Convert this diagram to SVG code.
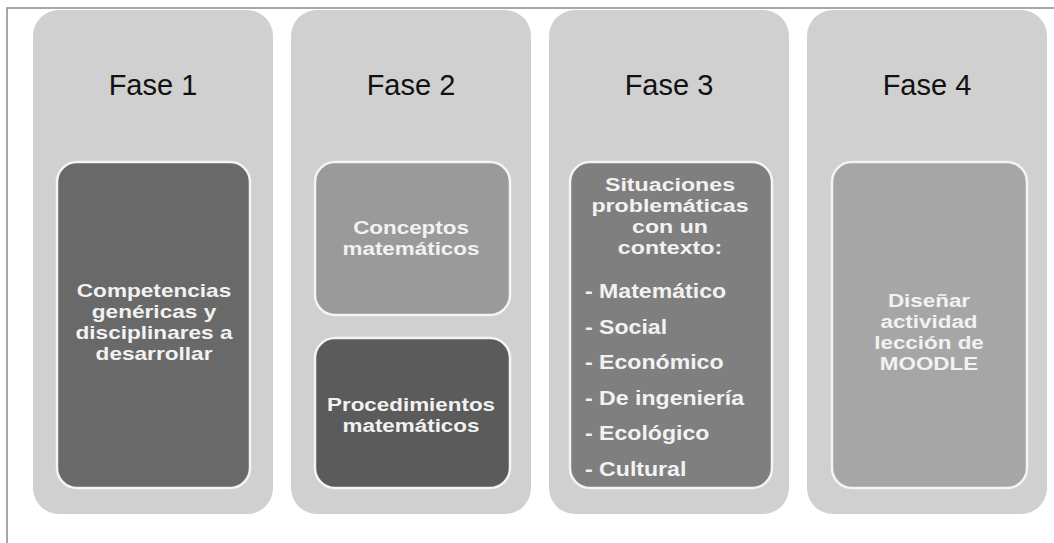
<svg xmlns="http://www.w3.org/2000/svg" width="1054" height="543" viewBox="0 0 1054 543">
  <style>
    .panel { fill: #d0d0d0; }
    .box { stroke: #f4f4f4; stroke-width: 2.5; }
    .title { font-family: "Liberation Sans", Arial, sans-serif; font-size: 29px; fill: #111; text-anchor: middle; }
    .lbl { font-family: "Liberation Sans", Arial, sans-serif; font-size: 19px; font-weight: bold; fill: #f2f2f2; text-anchor: middle; }
    .lst { font-family: "Liberation Sans", Arial, sans-serif; font-size: 21px; font-weight: bold; fill: #f2f2f2; }
    .frame { stroke: #8a8a8a; stroke-width: 1.5; fill: none; }
  </style>
  <rect x="0" y="0" width="1054" height="543" fill="#ffffff"/>
  <path class="frame" d="M7,543 V8 H1054"/>

  <g id="fase1">
    <rect class="panel" x="33" y="10" width="240" height="504" rx="26"/>
    <text class="title" x="153" y="95">Fase 1</text>
  </g>
  <g id="fase2">
    <rect class="panel" x="291" y="10" width="240" height="504" rx="26"/>
    <text class="title" x="411" y="95">Fase 2</text>
  </g>
  <g id="fase3">
    <rect class="panel" x="549" y="10" width="240" height="504" rx="26"/>
    <text class="title" x="669" y="95">Fase 3</text>
  </g>
  <g id="fase4">
    <rect class="panel" x="807" y="10" width="240" height="504" rx="26"/>
    <text class="title" x="927" y="95">Fase 4</text>
  </g>

  <g id="competencias">
    <rect class="box" x="57" y="162" width="193" height="326" rx="20" fill="#696969"/>
    <g transform="translate(154,0) scale(1.19,1)">
      <text class="lbl" x="0" y="297.5">Competencias</text>
      <text class="lbl" x="0" y="318.5">genéricas y</text>
      <text class="lbl" x="0" y="339.5">disciplinares a</text>
      <text class="lbl" x="0" y="360.5">desarrollar</text>
    </g>
  </g>

  <g id="conceptos">
    <rect class="box" x="315" y="162" width="195" height="153" rx="20" fill="#9a9a9a"/>
    <g transform="translate(411,0) scale(1.18,1)">
      <text class="lbl" x="0" y="234">Conceptos</text>
      <text class="lbl" x="0" y="255">matemáticos</text>
    </g>
  </g>

  <g id="procedimientos">
    <rect class="box" x="315" y="338" width="195" height="150" rx="20" fill="#5b5b5b"/>
    <g transform="translate(411,0) scale(1.18,1)">
      <text class="lbl" x="0" y="411">Procedimientos</text>
      <text class="lbl" x="0" y="432">matemáticos</text>
    </g>
  </g>

  <g id="situaciones">
    <rect class="box" x="570" y="162" width="202" height="326" rx="20" fill="#7f7f7f"/>
    <g transform="translate(670,0) scale(1.22,1)">
      <text class="lbl" x="0" y="191">Situaciones</text>
      <text class="lbl" x="0" y="212">problemáticas</text>
      <text class="lbl" x="0" y="233">con un</text>
      <text class="lbl" x="0" y="254">contexto:</text>
    </g>
    <g transform="translate(585,0) scale(1.1,1)">
      <text class="lst" x="0" y="298.5">- Matemático</text>
      <text class="lst" x="0" y="334">- Social</text>
      <text class="lst" x="0" y="369.5">- Económico</text>
      <text class="lst" x="0" y="405">- De ingeniería</text>
      <text class="lst" x="0" y="440.5">- Ecológico</text>
      <text class="lst" x="0" y="476">- Cultural</text>
    </g>
  </g>

  <g id="disenar">
    <rect class="box" x="832" y="162" width="195" height="326" rx="20" fill="#a6a6a6"/>
    <g transform="translate(929,0) scale(1.18,1)">
      <text class="lbl" x="0" y="307">Diseñar</text>
      <text class="lbl" x="0" y="328">actividad</text>
      <text class="lbl" x="0" y="349">lección  de</text>
      <text class="lbl" x="0" y="370">MOODLE</text>
    </g>
  </g>

  <g id="connectors"></g>
</svg>
